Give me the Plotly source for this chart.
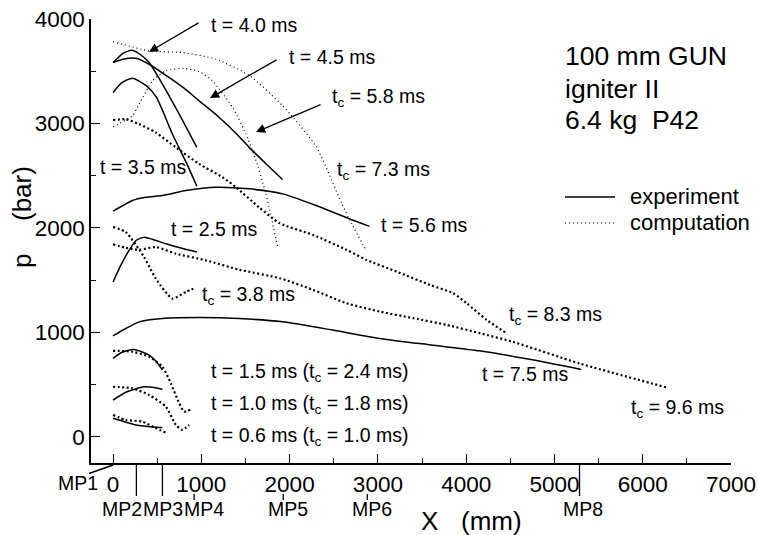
import plotly.graph_objects as go

# ---------------- data ----------------
# experiment (solid)
exp_t40_x = [0, 113, 212, 300, 408, 559, 749, 949]
exp_t40_p = [3583, 3672, 3701, 3665, 3583, 3377, 3090, 2771]

exp_t45_x = [0, 113, 257, 408, 600, 800, 975, 1200, 1400, 1542, 1750, 1920]
exp_t45_p = [3583, 3615, 3624, 3567, 3460, 3340, 3217, 3060, 2900, 2771, 2600, 2463]

exp_t35_x = [0, 100, 219, 379, 492, 672, 836, 949]
exp_t35_p = [3297, 3390, 3434, 3360, 3249, 2899, 2613, 2399]

exp_t56_x = [0, 219, 371, 556, 824, 1165, 1542, 1920, 2299, 2676, 2905]
exp_t56_p = [2160, 2263, 2294, 2310, 2358, 2390, 2374, 2326, 2215, 2088, 2015]

exp_t25_x = [0, 87, 181, 260, 352, 450, 598, 800, 949]
exp_t25_p = [1483, 1642, 1785, 1880, 1912, 1890, 1849, 1800, 1769]

exp_t75_x = [0, 150, 295, 559, 975, 1429, 1920, 2487, 3016, 3600, 4150, 4700, 5303]
exp_t75_p = [967, 1040, 1101, 1133, 1143, 1133, 1101, 1022, 942, 880, 824, 745, 646]

exp_t15_x = [0, 100, 238, 408, 500, 559]
exp_t15_p = [751, 810, 837, 783, 710, 640]

exp_t10_x = [0, 150, 352, 480, 559]
exp_t10_p = [353, 430, 480, 470, 455]

exp_t06_x = [0, 150, 295, 450, 559]
exp_t06_p = [178, 140, 108, 95, 89]

# computation, fine dotted
comp_tc73_x = [0, 408, 786, 1165, 1542, 1920, 2299, 2590, 2710, 2870]
comp_tc73_p = [3783, 3695, 3679, 3615, 3460, 3170, 2780, 2236, 2029, 1780]

comp_tc58_x = [0, 219, 295, 446, 598, 805, 975, 1126, 1353, 1505, 1618, 1732, 1864]
comp_tc58_p = [2969, 3074, 3185, 3408, 3504, 3526, 3497, 3408, 3153, 2899, 2645, 2326, 1817]

# computation, heavy dotted
comp_tc83_x = [0, 144, 295, 484, 711, 975, 1240, 1391, 1650, 1889, 2266, 2645, 2871, 3211, 3589, 3854, 4005,
               4231, 4458]
comp_tc83_p = [3033, 3040, 2994, 2914, 2771, 2613, 2485, 2390, 2200, 2045, 1933, 1790, 1694, 1582, 1455, 1375, 1279,
               1120, 992]

comp_tc96_x = [0, 144, 295, 484, 711, 1051, 1429, 1889, 2266, 2645, 3024, 3402, 3780, 4158, 4529, 5284, 6267]
comp_tc96_p = [1843, 1810, 1792, 1817, 1754, 1690, 1600, 1519, 1407, 1279, 1199, 1136, 1072, 992, 910, 703, 474]

comp_tc38_x = [0, 144, 352, 484, 672, 824, 938]
comp_tc38_p = [2008, 1960, 1721, 1515, 1324, 1388, 1429]

comp_tc24_x = [0, 219, 408, 559, 654, 749, 805, 881]
comp_tc24_p = [824, 815, 767, 671, 513, 322, 242, 264]

comp_tc18_x = [0, 219, 408, 598, 711, 786, 862]
comp_tc18_p = [480, 464, 401, 289, 115, 67, 115]

comp_tc10_x = [0, 144, 333, 484, 598]
comp_tc10_p = [210, 162, 146, 83, 41]

# measuring points along the barrel
mp_names = ["MP1", "MP2", "MP3", "MP4", "MP5", "MP6", "MP8"]
mp_x = [0, 264, 559, 918, 1928, 2880, 5284]

# axis settings
x_range = [-250, 7000]
y_range = [-250, 4000]
x_ticks = [0, 1000, 2000, 3000, 4000, 5000, 6000, 7000]
y_ticks = [0, 1000, 2000, 3000, 4000]

# ---------------- figure ----------------
W, H = 758, 535
ML, MR, MT, MB = 91, 27, 19, 72
PW, PH = W - ML - MR, H - MT - MB
FONT = "Liberation Sans, Arial, Helvetica, sans-serif"


def px2paper_x(px):
    return (px - ML) / PW


def px2paper_y(py):
    return (H - MB - py) / PH


def x2paper(x):
    return (x - x_range[0]) / (x_range[1] - x_range[0])


fig = go.Figure()

solid = dict(color="black", width=1.5)
fine = dict(color="black", width=1.2, dash="1px,3px")
heavy = dict(color="black", width=2.2, dash="2px,2.5px")

series = [
    (exp_t40_x, exp_t40_p, solid, "experiment t=4.0 ms"),
    (exp_t45_x, exp_t45_p, solid, "experiment t=4.5 ms"),
    (exp_t35_x, exp_t35_p, solid, "experiment t=3.5 ms"),
    (exp_t56_x, exp_t56_p, solid, "experiment t=5.6 ms"),
    (exp_t25_x, exp_t25_p, solid, "experiment t=2.5 ms"),
    (exp_t75_x, exp_t75_p, solid, "experiment t=7.5 ms"),
    (exp_t15_x, exp_t15_p, solid, "experiment t=1.5 ms"),
    (exp_t10_x, exp_t10_p, solid, "experiment t=1.0 ms"),
    (exp_t06_x, exp_t06_p, solid, "experiment t=0.6 ms"),
    (comp_tc73_x, comp_tc73_p, fine, "computation tc=7.3 ms"),
    (comp_tc58_x, comp_tc58_p, fine, "computation tc=5.8 ms"),
    (comp_tc83_x, comp_tc83_p, heavy, "computation tc=8.3 ms"),
    (comp_tc96_x, comp_tc96_p, heavy, "computation tc=9.6 ms"),
    (comp_tc38_x, comp_tc38_p, heavy, "computation tc=3.8 ms"),
    (comp_tc24_x, comp_tc24_p, heavy, "computation tc=2.4 ms"),
    (comp_tc18_x, comp_tc18_p, heavy, "computation tc=1.8 ms"),
    (comp_tc10_x, comp_tc10_p, heavy, "computation tc=1.0 ms"),
]
for xs, ps, ln, nm in series:
    fig.add_trace(go.Scatter(x=xs, y=ps, mode="lines", line=dict(shape="spline", smoothing=0.6, **ln),
                             name=nm, showlegend=False, hoverinfo="x+y+name"))

annotations = []
LBL = dict(family=FONT, size=19.5, color="black")


def label(text, px, py):
    annotations.append(dict(text=text, x=px2paper_x(px), y=px2paper_y(py), xref="paper", yref="paper",
                            xanchor="left", yanchor="middle", showarrow=False, font=LBL))


label("t = 4.0 ms", 209, 25)
label("t = 4.5 ms", 287, 57)
label("t<sub>c</sub> = 5.8 ms", 330, 97.5)
label("t<sub>c</sub> = 7.3 ms", 335, 170.5)
label("t = 5.6 ms", 379, 225)
label("t = 3.5 ms", 98, 167)
label("t = 2.5 ms", 169, 229)
label("t<sub>c</sub> = 3.8 ms", 200, 295.5)
label("t = 1.5 ms (t<sub>c</sub> = 2.4 ms)", 209, 372.5)
label("t = 1.0 ms (t<sub>c</sub> = 1.8 ms)", 209, 404.5)
label("t = 0.6 ms (t<sub>c</sub> = 1.0 ms)", 209, 436.5)
label("t<sub>c</sub> = 8.3 ms", 507, 315.5)
label("t = 7.5 ms", 480, 374)
label("t<sub>c</sub> = 9.6 ms", 629, 408.5)

# arrows (tip, tail in pixel positions)
for (tx, ty, sx, sy) in [(149, 52, 200, 22), (210, 98, 278, 59), (256, 132, 322, 104)]:
    annotations.append(dict(text="", x=px2paper_x(tx), y=px2paper_y(ty), xref="paper", yref="paper",
                            ax=sx - tx, ay=sy - ty, axref="pixel", ayref="pixel",
                            showarrow=True, arrowhead=2, arrowsize=1.4, arrowwidth=1.3, arrowcolor="black",
                            standoff=0, startstandoff=0))

# info block
INFO = dict(family=FONT, size=26.5, color="black")
for txt, py in [("100 mm GUN", 56), ("igniter II", 89), ("6.4 kg&nbsp;&nbsp;P42", 120)]:
    annotations.append(dict(text=txt, x=px2paper_x(563), y=px2paper_y(py), xref="paper", yref="paper",
                            xanchor="left", yanchor="middle", showarrow=False, font=INFO))

# legend block
LEG = dict(family=FONT, size=22, color="black")
for txt, py in [("experiment", 196), ("computation", 222)]:
    annotations.append(dict(text=txt, x=px2paper_x(628), y=px2paper_y(py), xref="paper", yref="paper",
                            xanchor="left", yanchor="middle", showarrow=False, font=LEG))

shapes = [
    dict(type="line", xref="paper", yref="paper", x0=px2paper_x(565), x1=px2paper_x(615),
         y0=px2paper_y(197), y1=px2paper_y(197), line=dict(color="black", width=1.3)),
    dict(type="line", xref="paper", yref="paper", x0=px2paper_x(565), x1=px2paper_x(615),
         y0=px2paper_y(223), y1=px2paper_y(223), line=dict(color="black", width=1.1, dash="1px,3px")),
]

# measuring point markers below the x axis
MPF = dict(family=FONT, size=19.5, color="black")
for name, xm in zip(mp_names, mp_x):
    xp = x2paper(xm)
    if name == "MP1":
        shapes.append(dict(type="line", xref="paper", yref="paper", x0=xp, x1=px2paper_x(89),
                           y0=px2paper_y(465), y1=px2paper_y(473.5), line=dict(color="black", width=1.5)))
        annotations.append(dict(text=name, x=px2paper_x(77.5), y=px2paper_y(483), xref="paper", yref="paper",
                                xanchor="center", yanchor="middle", showarrow=False, font=MPF))
        continue
    if name in ("MP2", "MP3", "MP8"):
        y0, y1 = 465, 496
    else:
        y0, y1 = 494, 500
    shapes.append(dict(type="line", xref="paper", yref="paper", x0=xp, x1=xp,
                       y0=px2paper_y(y0), y1=px2paper_y(y1), line=dict(color="black", width=1.3)))

mp_label_px = {"MP2": 121.7, "MP3": 163, "MP4": 204, "MP5": 287.5, "MP6": 372, "MP8": 583}
for name in mp_names[1:]:
    annotations.append(dict(text=name, x=px2paper_x(mp_label_px[name]), y=px2paper_y(509), xref="paper",
                            yref="paper", xanchor="center", yanchor="middle", showarrow=False, font=MPF))

# axis titles (split into parts to keep the wide gaps of the original)
TITLE = dict(family=FONT, size=26, color="black")
for txt, py in [("(bar)", 194), ("p", 261)]:
    annotations.append(dict(text=txt, x=px2paper_x(22), y=px2paper_y(py), xref="paper", yref="paper",
                            textangle=-90, xanchor="center", yanchor="middle", showarrow=False, font=TITLE))
for txt, px in [("X", 429), ("(mm)", 491)]:
    annotations.append(dict(text=txt, x=px2paper_x(px), y=px2paper_y(521), xref="paper", yref="paper",
                            xanchor="center", yanchor="middle", showarrow=False, font=TITLE))

axis_common = dict(showline=True, linecolor="black", linewidth=1.5, ticks="inside", ticklen=9,
                   tickwidth=1.3, tickcolor="black", showgrid=False, zeroline=False, automargin=False,
                   tickfont=dict(family=FONT, size=22.5, color="black"), mirror=False)

fig.update_layout(
    width=W, height=H, margin=dict(l=ML, r=MR, t=MT, b=MB, pad=0, autoexpand=False),
    paper_bgcolor="white", plot_bgcolor="white", showlegend=False,
    xaxis=dict(range=x_range, tickvals=x_ticks, ticktext=[str(v) for v in x_ticks],
               minor=dict(ticks="inside", ticklen=5, dtick=500, tick0=0, tickcolor="black", tickwidth=1.3,
                          showgrid=False), **axis_common),
    yaxis=dict(range=y_range, tickvals=y_ticks, ticktext=[str(v) for v in y_ticks],
               minor=dict(ticks="inside", ticklen=5, dtick=500, tick0=0, tickcolor="black", tickwidth=1.3,
                          showgrid=False), **axis_common),
    annotations=annotations, shapes=shapes,
    font=dict(family=FONT, color="black"),
)

fig.write_html("out.html", config={"displayModeBar": False},
               post_script="document.body.style.margin='0';document.body.style.overflow='hidden';")
